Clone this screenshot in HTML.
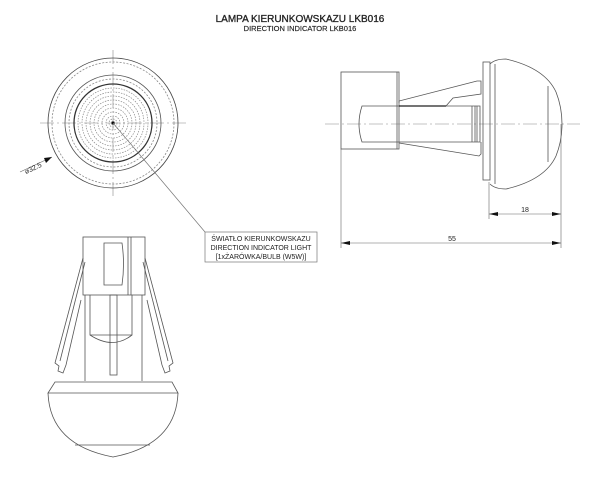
<!DOCTYPE html>
<html><head><meta charset="utf-8"><style>
html,body{margin:0;padding:0;background:#fff;}
svg{display:block;}
text{font-family:"Liberation Sans",sans-serif;fill:#222;}
</style></head><body>
<svg width="600" height="477" viewBox="0 0 600 477" xmlns="http://www.w3.org/2000/svg">
<text x="300" y="22" font-size="10" text-anchor="middle" stroke="#222" stroke-width="0.3">LAMPA KIERUNKOWSKAZU LKB016</text>
<text x="300" y="31" font-size="7.5" text-anchor="middle" stroke="#222" stroke-width="0.15">DIRECTION INDICATOR LKB016</text>

<!-- front view circle -->
<g fill="none" stroke="#555" stroke-width="0.8">
<line x1="113" y1="50" x2="113" y2="196" stroke="#888" stroke-width="0.6" stroke-dasharray="14,3,2,3"/>
<line x1="40" y1="123" x2="188" y2="123" stroke="#888" stroke-width="0.6" stroke-dasharray="14,3,2,3"/>
<circle cx="113" cy="123" r="65" stroke="#444"/>
<circle cx="113" cy="123" r="61" stroke-dasharray="2,1.5" stroke="#888"/>
<circle cx="113" cy="123" r="48" stroke="#555"/>
<circle cx="113" cy="123" r="44" stroke-dasharray="2,1.5" stroke="#888"/>
<circle cx="113" cy="123" r="39" stroke="#333" stroke-width="1.3"/>
<g stroke="#888" stroke-dasharray="1.5,1.2" stroke-width="0.7">
<circle cx="113" cy="123" r="35"/><circle cx="113" cy="123" r="31"/><circle cx="113" cy="123" r="27"/>
<circle cx="113" cy="123" r="23"/><circle cx="113" cy="123" r="19"/><circle cx="113" cy="123" r="15"/>
<circle cx="113" cy="123" r="11"/><circle cx="113" cy="123" r="7"/><circle cx="113" cy="123" r="4"/>
</g>
<circle cx="113" cy="123" r="1.5" fill="#000"/>
<line x1="113" y1="123" x2="205" y2="232" stroke="#777" stroke-width="0.7"/>
<line x1="20" y1="172" x2="52" y2="157" stroke="#666" stroke-width="0.6"/>
</g>
<polygon points="52,157 44,158 46,163" fill="#111"/>
<text x="0" y="0" font-size="7" transform="translate(26,174) rotate(-25)">⌀32.5</text>

<!-- label -->
<rect x="205" y="232" width="112" height="30" fill="#fff" stroke="#777" stroke-width="0.7"/>
<text x="261" y="241" font-size="7" text-anchor="middle">ŚWIATŁO KIERUNKOWSKAZU</text>
<text x="261" y="250" font-size="7" text-anchor="middle">DIRECTION INDICATOR LIGHT</text>
<text x="261" y="259" font-size="7" text-anchor="middle">[1xŻARÓWKA/BULB (W5W)]</text>

<!-- side view -->
<g fill="none" stroke="#555" stroke-width="0.8">
<line x1="325" y1="124" x2="580" y2="124" stroke="#888" stroke-width="0.6" stroke-dasharray="14,3,2,3"/>
<rect x="341" y="72" width="58" height="77"/>
<line x1="397" y1="72" x2="397" y2="149"/>
<path d="M399,103 L399,101 L477,81 L481,81 L481,94 L453,98 L446,106"/>
<path d="M399,143 L479,156 L481,154 L481,142"/>
<path d="M362,106 L480,106 L480,142 L362,142 Q356,124 362,106 Z"/>
<line x1="399" y1="106" x2="446" y2="106" stroke="#222" stroke-width="1.2"/>
<line x1="472" y1="106" x2="472" y2="142"/><line x1="475" y1="106" x2="475" y2="142"/><line x1="477" y1="106" x2="477" y2="142"/>
<rect x="483" y="62" width="7" height="118"/>
<path d="M490,64 Q495,59 506,59 Q545,68 556,92 Q562,107 562,124 Q562,141 556,156 Q545,180 506,189 Q495,189 490,184"/>
<line x1="548" y1="86" x2="548" y2="162"/>
<line x1="495" y1="64" x2="495" y2="184"/>
<g stroke="#666" stroke-width="0.6">
<line x1="341" y1="149" x2="341" y2="248"/>
<line x1="489" y1="182" x2="489" y2="219"/>
<line x1="561" y1="124" x2="561" y2="248"/>
<line x1="489" y1="214" x2="561" y2="214"/>
<line x1="341" y1="243" x2="561" y2="243"/>
</g>
</g>
<g fill="#111">
<polygon points="489,214 498,212 498,216"/><polygon points="561,214 552,212 552,216"/>
<polygon points="341,243 350,241 350,245"/><polygon points="561,243 552,241 552,245"/>
</g>
<text x="525" y="212" font-size="7" text-anchor="middle">18</text>
<text x="452" y="241" font-size="7" text-anchor="middle">55</text>

<!-- bottom view -->
<g fill="none" stroke="#555" stroke-width="0.8">
<rect x="83" y="237" width="62" height="58"/>
<line x1="128" y1="237" x2="128" y2="295"/><line x1="131" y1="237" x2="131" y2="295"/>
<path d="M104,243 L122,243 Q125,264 122,285 L104,285 Z"/>
<path d="M90,295 L90,335 L132,335 L132,295"/>
<path d="M90,335 Q113,350 132,335"/>
<rect x="110" y="295" width="7" height="80"/>
<line x1="85" y1="295" x2="85" y2="381"/><line x1="142" y1="295" x2="142" y2="381"/>
<path d="M83,258 L55,363 L59,366 L58,371 L63,373 L66,365 L81,300"/>
<path d="M85,262 L60,361"/>
<path d="M145,258 L173,363 L169,366 L170,371 L165,373 L162,365 L147,300"/>
<path d="M143,262 L168,361"/>
<path d="M55,382 L172,382 L178,393 L48,393 Z"/>
<path d="M48,393 Q50,445 113,457 Q176,445 178,393"/>
<line x1="75" y1="445" x2="150" y2="445"/>
</g>
</svg>
</body></html>
